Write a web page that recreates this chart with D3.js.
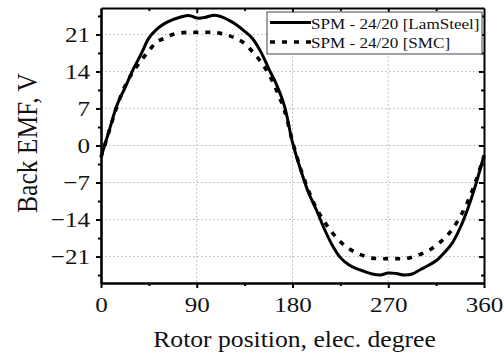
<!DOCTYPE html>
<html>
<head>
<meta charset="utf-8">
<script src="https://cdn.jsdelivr.net/npm/d3@7"></script>
<style>
  html, body { margin: 0; padding: 0; background: #fff; }
  svg { display: block; }
  text { font-family: "Liberation Serif", "Times New Roman", serif; fill: #111; }
</style>
</head>
<body>
<svg id="chart" width="504" height="360"></svg>
<script>
// Rotor electrical angle (degrees) at which back EMF was sampled
const angles = [0, 7.5, 15, 22.5, 30, 37.5, 45, 52.5, 60, 67.5, 75, 82.5, 90,
  97.5, 105, 112.5, 120, 127.5, 135, 142.5, 150, 157.5, 165, 172.5, 180,
  187.5, 195, 202.5, 210, 217.5, 225, 232.5, 240, 247.5, 255, 262.5, 270,
  277.5, 285, 292.5, 300, 307.5, 315, 322.5, 330, 337.5, 345, 352.5, 360];

// Back EMF, laminated steel stator (V)
const emfLamSteel = [-2.2, 2.7, 7.6, 10.9, 14.3, 17.2, 20.3, 22.0, 23.1, 23.8, 24.3, 24.6, 24.1,
  24.2, 24.6, 24.4, 23.7, 22.8, 21.6, 20.2, 17.8, 14.6, 11.5, 7.4, 0.6,
  -4.5, -8.9, -12.2, -15.8, -18.9, -21.2, -22.5, -23.3, -23.8, -24.3, -24.5, -24.1,
  -24.2, -24.5, -24.3, -23.5, -22.7, -21.8, -20.3, -18.5, -15.6, -11.8, -7.2, -1.8];

// Back EMF, soft magnetic composite stator (V)
const emfSMC = [-2.2, 2.6, 7.4, 11.2, 13.9, 16.0, 17.9, 19.6, 20.3, 21.0, 21.3, 21.4, 21.4,
  21.4, 21.4, 21.2, 20.8, 20.2, 19.3, 17.7, 15.9, 13.6, 10.4, 6.6, 0.8,
  -4.3, -8.5, -11.9, -14.4, -16.5, -18.2, -19.4, -20.3, -20.9, -21.3, -21.4, -21.4,
  -21.4, -21.4, -21.1, -20.6, -19.9, -18.9, -17.6, -15.9, -13.5, -10.5, -6.6, -2.0];

const seriesNames = ["SPM - 24/20 [LamSteel]", "SPM - 24/20 [SMC]"];
const xTicks = [0, 90, 180, 270, 360];
const xMinorTicks = [45, 135, 225, 315];
const yTicks = [-21, -14, -7, 0, 7, 14, 21];
const yMinorTicks = [-24.5, -17.5, -10.5, -3.5, 3.5, 10.5, 17.5, 24.5];
const xTitle = "Rotor position, elec. degree";
const yTitle = "Back EMF, V";

const SERIF = '"Liberation Serif", "Times New Roman", serif';
const SX = 1.14; // horizontal glyph stretch
const svg = d3.select("#chart");
const pL = 101, pR = 484, pT = 8, pB = 283;

const x = d3.scaleLinear().domain([0, 360]).range([pL, pR]);
const y = d3.scaleLinear().domain([-26, 26]).range([pB, pT]);

// dotted grid at the major ticks
const grid = svg.append("g").attr("stroke", "#c4c4c4").attr("stroke-width", 1)
  .attr("stroke-dasharray", "2,2");
grid.selectAll("line.gx").data(xTicks.slice(1, -1)).join("line")
  .attr("x1", d => x(d)).attr("x2", d => x(d)).attr("y1", pT).attr("y2", pB);
grid.selectAll("line.gy").data(yTicks).join("line")
  .attr("y1", d => y(d)).attr("y2", d => y(d)).attr("x1", pL).attr("x2", pR);

// curves
const line = d3.line().x((d, i) => x(angles[i])).y(d => y(d)).curve(d3.curveCatmullRom.alpha(0.5));
svg.append("path").datum(emfSMC).attr("d", line)
  .attr("fill", "none").attr("stroke", "#000").attr("stroke-width", 3.6)
  .attr("stroke-dasharray", "5,7");
svg.append("path").datum(emfLamSteel).attr("d", line)
  .attr("fill", "none").attr("stroke", "#000").attr("stroke-width", 3);

// axes
function styleAxis(g, width) {
  g.attr("font-family", SERIF);
  g.select(".domain").attr("stroke", "#000").attr("stroke-width", width);
  g.selectAll(".tick line").attr("stroke", "#000").attr("stroke-width", 2);
}
function minor(g) {
  g.select(".domain").remove();
  g.selectAll("line").attr("stroke", "#000").attr("stroke-width", 2);
}
const gBottom = svg.append("g").attr("transform", `translate(0,${pB})`)
  .call(d3.axisBottom(x).tickValues(xTicks).tickSize(5).tickSizeOuter(0).tickPadding(8.4).tickFormat(d3.format("d")));
styleAxis(gBottom, 2.6);
gBottom.selectAll("text").attr("font-size", 22).attr("font-family", SERIF).attr("fill", "#111")
  .attr("transform", `scale(${SX},1)`);
svg.append("g").attr("transform", `translate(0,${pB})`)
  .call(d3.axisBottom(x).tickValues(xMinorTicks).tickSize(3).tickSizeOuter(0).tickFormat(""))
  .call(minor);

const gLeft = svg.append("g").attr("transform", `translate(${pL},0)`)
  .call(d3.axisLeft(y).tickValues(yTicks).tickSize(5).tickSizeOuter(0).tickPadding(6).tickFormat(d3.format("d")));
styleAxis(gLeft, 2.6);
gLeft.selectAll("text").attr("font-size", 22).attr("font-family", SERIF).attr("fill", "#111")
  .attr("transform", `scale(${SX},1)`).attr("x", -11 / SX);
svg.append("g").attr("transform", `translate(${pL},0)`)
  .call(d3.axisLeft(y).tickValues(yMinorTicks).tickSize(3).tickSizeOuter(0).tickFormat(""))
  .call(minor);

// mirrored inward ticks on top and right
const gTop = svg.append("g").attr("transform", `translate(0,${pT})`)
  .call(d3.axisTop(x).tickValues(xTicks.slice(1, -1)).tickSize(-5).tickSizeOuter(0).tickFormat(""));
styleAxis(gTop, 2);
svg.append("g").attr("transform", `translate(0,${pT})`)
  .call(d3.axisTop(x).tickValues(xMinorTicks).tickSize(-3).tickSizeOuter(0).tickFormat(""))
  .call(minor);
const gRight = svg.append("g").attr("transform", `translate(${pR},0)`)
  .call(d3.axisRight(y).tickValues(yTicks).tickSize(-5).tickSizeOuter(0).tickFormat(""));
styleAxis(gRight, 2);
svg.append("g").attr("transform", `translate(${pR},0)`)
  .call(d3.axisRight(y).tickValues(yMinorTicks).tickSize(-3).tickSizeOuter(0).tickFormat(""))
  .call(minor);

// axis titles
svg.append("text")
  .attr("transform", `translate(${(pL + pR) / 2 + 2},347) scale(${SX},1)`)
  .attr("text-anchor", "middle").attr("font-size", 22.5).text(xTitle);
svg.append("text")
  .attr("transform", `translate(37,143) rotate(-90) scale(1,${SX})`)
  .attr("text-anchor", "middle").attr("font-size", 25.5).text(yTitle);

// legend
const lg = svg.append("g");
lg.append("rect").attr("x", 267).attr("y", 12).attr("width", 215).attr("height", 42)
  .attr("fill", "#fff").attr("stroke", "#444").attr("stroke-width", 1);
const rows = [
  { name: seriesNames[0], yLine: 22.5, yText: 28.5, dash: null, w: 3 },
  { name: seriesNames[1], yLine: 42, yText: 48, dash: "5,7", w: 3.6 }
];
rows.forEach(r => {
  lg.append("line").attr("x1", 270).attr("x2", 311).attr("y1", r.yLine).attr("y2", r.yLine)
    .attr("stroke", "#000").attr("stroke-width", r.w).attr("stroke-dasharray", r.dash);
  lg.append("text").attr("transform", `translate(311,${r.yText}) scale(${SX},1)`)
    .attr("font-size", 15).text(r.name);
});
</script>
</body>
</html>
